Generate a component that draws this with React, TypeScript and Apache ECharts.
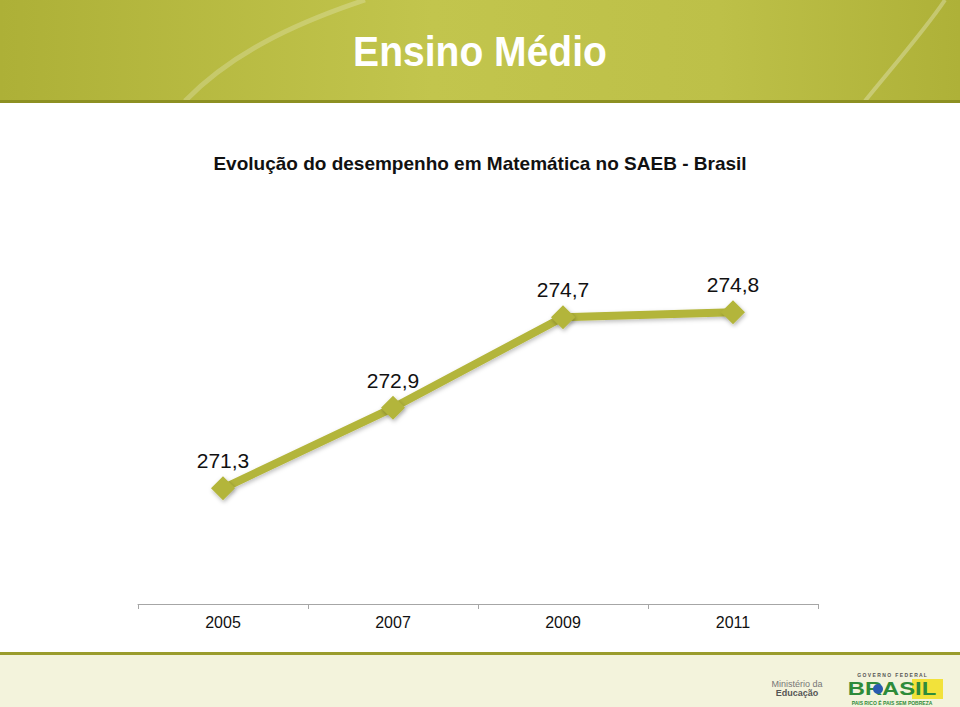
import React, { useEffect, useRef } from "react";
import * as echarts from "echarts";

const years = ["2005", "2007", "2009", "2011"];
const scores = [271.3, 272.9, 274.7, 274.8];
const labels = ["271,3", "272,9", "274,7", "274,8"];

export default function App() {
  const ref = useRef<HTMLDivElement>(null);
  useEffect(() => {
    const chart = echarts.init(ref.current!, null, { renderer: "svg" });
    chart.setOption({
      animation: false,
      backgroundColor: "#ffffff",
      grid: { left: 138, right: 142, top: 277, bottom: 103 },
      xAxis: {
        type: "category",
        data: years,
        boundaryGap: true,
        axisLine: { lineStyle: { color: "#a6a6a6", width: 1 } },
        axisTick: { show: true, length: 5, inside: false, lineStyle: { color: "#a6a6a6" } },
        axisLabel: { color: "#111", fontSize: 16, fontFamily: "Liberation Sans, Arial", margin: 10 },
        splitLine: { show: false },
      },
      yAxis: {
        type: "value",
        min: 269,
        max: 275.5,
        show: false,
        splitLine: { show: false },
      },
      series: [
        {
          type: "line",
          data: scores.map((v, i) => ({ value: v, label: { formatter: labels[i] } })),
          lineStyle: {
            color: "#b3b53a",
            width: 8,
            shadowColor: "rgba(0,0,0,0.25)",
            shadowBlur: 4,
            shadowOffsetX: 1,
            shadowOffsetY: 2,
          },
          symbol: "diamond",
          symbolSize: 24,
          itemStyle: {
            color: "#b3b53a",
            shadowColor: "rgba(0,0,0,0.3)",
            shadowBlur: 4,
            shadowOffsetX: 1,
            shadowOffsetY: 2,
          },
          label: {
            show: true,
            position: "top",
            distance: 5,
            color: "#111",
            fontSize: 21,
            fontFamily: "Liberation Sans, Arial",
          },
        },
      ],
      graphic: [
        {
          type: "rect",
          shape: { x: 0, y: 0, width: 960, height: 101 },
          style: {
            fill: new echarts.graphic.LinearGradient(0, 0, 1, 0, [
              { offset: 0, color: "#adb037" },
              { offset: 0.45, color: "#c2c54d" },
              { offset: 0.75, color: "#bdc048" },
              { offset: 1, color: "#aeb138" },
            ]),
          },
          silent: true,
        },
        {
          type: "bezierCurve",
          shape: { x1: 185, y1: 101, x2: 365, y2: 0, cpx1: 230, cpy1: 55, cpx2: 290, cpy2: 25 },
          style: { stroke: "rgba(255,255,255,0.22)", lineWidth: 5, fill: "none" },
          silent: true,
        },
        {
          type: "bezierCurve",
          shape: { x1: 865, y1: 101, x2: 945, y2: 0, cpx1: 890, cpy1: 70, cpx2: 925, cpy2: 30 },
          style: { stroke: "rgba(255,255,255,0.28)", lineWidth: 4, fill: "none" },
          silent: true,
        },
        {
          type: "rect",
          shape: { x: 0, y: 100, width: 960, height: 3 },
          style: { fill: "#8d9022" },
          silent: true,
        },
        {
          type: "text",
          x: 480,
          y: 52,
          scaleX: 0.93,
          style: {
            text: "Ensino Médio",
            fill: "#ffffff",
            font: "bold 42px 'Liberation Sans Narrow', 'Liberation Sans', Arial",
            align: "center",
            verticalAlign: "middle",
          },
        },
        {
          type: "text",
          x: 480,
          y: 163,
          style: {
            text: "Evolução do desempenho em Matemática no SAEB - Brasil",
            fill: "#111",
            font: "bold 19px 'Liberation Sans', Arial",
            align: "center",
            verticalAlign: "middle",
          },
        },
        {
          type: "rect",
          shape: { x: 0, y: 652, width: 960, height: 55 },
          style: { fill: "#f3f3dc" },
          silent: true,
        },
        {
          type: "rect",
          shape: { x: 0, y: 652, width: 960, height: 3 },
          style: { fill: "#9a9c2c" },
          silent: true,
        },
        {
          type: "text",
          x: 797,
          y: 684,
          style: {
            text: "Ministério da",
            fill: "#777",
            font: "9px 'Liberation Sans', Arial",
            align: "center",
            verticalAlign: "middle",
          },
        },
        {
          type: "text",
          x: 797,
          y: 693,
          style: {
            text: "Educação",
            fill: "#555",
            font: "bold 9px 'Liberation Sans', Arial",
            align: "center",
            verticalAlign: "middle",
          },
        },
        {
          type: "text",
          x: 892,
          y: 675,
          style: {
            text: "G O V E R N O   F E D E R A L",
            fill: "#555",
            font: "bold 5px 'Liberation Sans', Arial",
            align: "center",
            verticalAlign: "middle",
          },
        },
        {
          type: "rect",
          shape: { x: 912, y: 679, width: 31, height: 20 },
          style: { fill: "#f2e23a" },
        },
        {
          type: "text",
          x: 892,
          y: 689,
          scaleX: 1.25,
          style: {
            text: "BRASIL",
            fill: "#2e8b3a",
            font: "bold 19px 'Liberation Sans', Arial",
            align: "center",
            verticalAlign: "middle",
          },
        },
        {
          type: "circle",
          shape: { cx: 878, cy: 689, r: 5 },
          style: { fill: "#2a5bb0" },
        },
        {
          type: "text",
          x: 892,
          y: 703,
          style: {
            text: "PAIS RICO É PAIS SEM POBREZA",
            fill: "#2e8b3a",
            font: "bold 5px 'Liberation Sans', Arial",
            align: "center",
            verticalAlign: "middle",
          },
        },
      ],
    });
    return () => chart.dispose();
  }, []);
  return (
    <div
      ref={ref}
      style={{ position: "absolute", left: 0, top: 0, width: 960, height: 707 }}
    />
  );
}
